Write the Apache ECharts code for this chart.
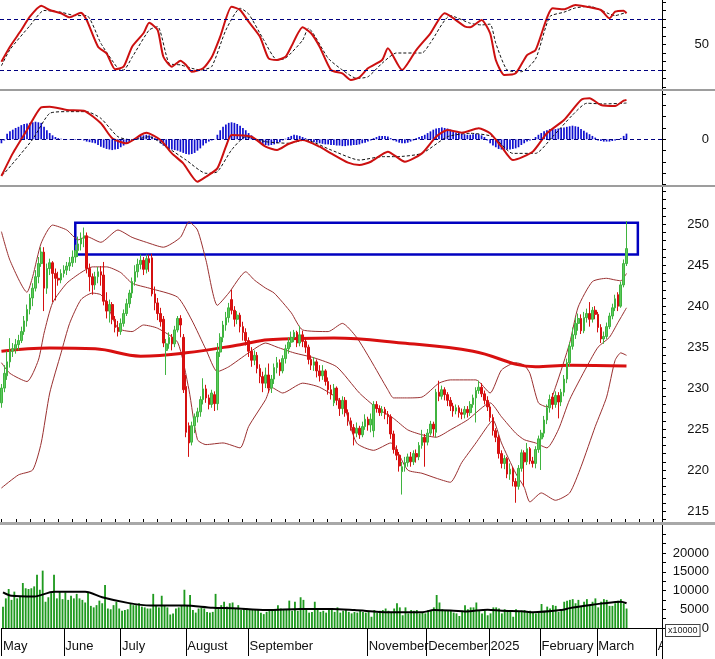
<!DOCTYPE html>
<html><head><meta charset="utf-8">
<script src="https://cdn.jsdelivr.net/npm/echarts@6/dist/echarts.min.js"></script>
<style>html,body{margin:0;padding:0;background:#fff}#c{width:715px;height:659px}</style>
</head><body><div id="c"></div>
<script>
// ---------- calendar (trading sessions per month) ----------
const monthNames = ['May','June','July','August','September','October','November','December','2025','February','March','April'];
const monthDays  = [22,20,23,22,19,23,21,22,18,20,21,2];
const hiddenMonthLabels = ['October']; // not printed on the reference axis

// ---------- price candles [open, close, low, high] ----------
const ohlc = [
[228.2,230,227.6,230.5],[230,231.8,229.5,232.8],[231.5,233.2,231,234.5],[233.2,234.5,232.5,236.1],[234.5,234.8,233.8,235.5],
[234.8,235.3,234.2,236],[235.3,235.8,234.6,236.5],[235.8,236.9,235.5,237.5],[236.9,238.2,236.5,238.8],[238.2,239.6,237.5,240.2],
[239.6,241,239,241.5],[241,242.2,240,242.8],[242.2,243.6,241.8,244.4],[243.6,245.2,242.8,246],[245.2,246.6,244.8,247.2],
[246.6,242.2,239.4,247.2],[242.2,244.6,241.5,245.2],[244.6,245.3,243.8,245.8],[245.3,244,240.5,245.5],[244,243.4,240.7,244.6],
[243.4,243.2,242.5,244.2],[243.2,244,242.8,244.5],[244,244.4,243.5,245],[244.4,244.9,243.8,245.4],[244.9,245.3,244.3,246],
[245.3,246,244.8,246.8],[246,246.8,245.3,247.5],[246.8,247.6,246,248.5],[247.6,248.3,246.8,249],[248.3,248.6,247.2,249.6],
[248.6,244.6,244,249],[244.6,243.6,241.8,245.2],[243.6,242.6,241.4,244],[242.6,243.6,242,244.2],[243.6,244.2,242.8,244.8],
[244.2,243.8,242.5,244.9],[243.8,240.6,240.1,245.4],[240.6,239.4,238.5,241.7],[239.4,240.2,238,240.8],[240.2,238.4,237.8,240.5],
[238.4,237.4,236.8,238.8],[237.4,236.9,236.3,238.2],[236.9,237.9,236.5,238.5],[237.9,239.1,237.5,239.6],[239.1,240.3,238.8,240.9],
[240.3,241.6,239.8,242],[241.6,243,241,243.5],[243,244.2,242.5,245],[244.2,245.1,243.5,245.8],[245.1,245.6,244.5,246.3],
[245.6,244.5,243.8,246],[244.5,245.8,244,246.3],[245.8,245.3,244.2,246.3],[245.9,241.5,241.2,246.4],[241.5,240.4,239.5,242.4],
[240.4,239.1,238.3,241],[239.1,238.1,237.5,239.8],[238.4,235.5,235,238.8],[234.6,235.4,231.6,236],[235.4,236.2,234.8,236.8],
[236.2,235.4,234.6,236.6],[235.4,237.1,235,237.6],[237.1,238.5,236.8,238.8],[238.5,237.7,236.2,238.9],[236.2,229.8,229.4,236.6],
[230.2,224.6,224,231.6],[225.4,223.3,221.6,225.8],[223.4,225.4,223,225.9],[225.4,226.5,224.5,226.9],[226.5,227.1,225.8,227.6],
[227.1,228.6,226.5,229],[228.6,229.9,228,231.2],[229.9,228.8,228.2,230.4],[228.8,228,227.4,229.2],[228,229.4,227.6,229.8],
[229.2,228.1,227.2,229.6],[228.1,234.4,227.3,235.5],[234.4,236.2,233.8,236.7],[236.2,237.7,235.6,238.2],[237.7,238.6,237,239.3],
[238.6,239.8,238,240.4],[240.8,239.5,239,242],[239.5,238.4,237.5,240],[238.4,238.9,237.8,239.4],[238.9,237.5,236.8,239.2],
[237.5,236.8,235.8,238.1],[236.8,235.8,235.2,237.3],[235.8,234.5,233.8,236.2],[234.5,233.4,232.6,235],[233.4,234,232.8,234.6],
[234,232.4,231.8,234.4],[232.4,231.4,230.6,232.9],[231.4,230.6,229.5,232],[230.6,231.6,230,232.5],[231.6,230,229.4,233],
[230,231.1,229.4,231.6],[231.1,232.5,230.5,233],[232.5,233.1,231.8,233.8],[233.1,232.1,231.5,233.5],[232.1,233.6,231.8,234],
[233.6,234.8,233,235.3],[234.8,235.6,234.2,236.2],[235.6,236.2,235,236.9],[236.2,236.8,235.6,237.1],[236.8,235.5,235,237],
[235.5,236.5,235.1,237.6],[236.5,235.7,235,237],[235.7,235,234.3,236.1],[235,233.5,232.9,235.3],[233.5,232.8,232.2,234],
[232.8,233.2,232.1,233.8],[233.2,232.1,231.3,233.5],[232.1,231.5,230.8,232.8],[231.5,232.1,231,232.8],[232.1,230.8,230.3,232.3],
[230.8,229.8,229.2,231.3],[229.8,229.2,228.6,230.4],[228.2,230,227.8,230.5],[230,228.5,227.9,230.2],[228.5,227.5,226.6,228.8],
[227.5,228.5,226.8,229],[228.5,227,226.5,228.9],[227,226,225.4,227.4],[226,225.2,224.8,226.4],[225.2,224.5,223,225.6],
[224.5,225.1,224,225.8],[225.1,224.3,223.8,225.4],[224.3,225.3,224,225.9],[225.3,226.2,224.9,226.8],[226.2,225.5,224.8,226.5],
[225.5,226.2,224.6,226.9],[224.8,228,224,228.4],[228,227.5,227,228.4],[227.5,227,226.6,227.9],[227,227.4,226.6,227.8],
[227.4,226.8,226.2,227.7],[226.8,226.5,225.6,227.2],[226.5,224.4,223.8,226.8],[224.4,222.5,222,224.8],[222.5,221.8,221.2,223],
[221.8,220.5,219.8,222.2],[219.8,220.4,217,221],[220.4,220.9,219.8,221.6],[220.9,221.6,220.4,222],[221.6,221,220.4,222.2],
[221,222,220.6,222.4],[222,221.6,220.9,222.5],[221.6,223,221.2,223.4],[223,224,222.6,224.9],[224,223.4,220.4,224.4],
[223.4,224.5,223,225],[224.5,225.6,224.2,226],[225.6,225,224.1,225.9],[224.6,229.5,224,229.9],[229.5,229,228.4,230.9],
[229,229.8,228.6,230.3],[229.8,229.2,228.5,230.1],[229.2,228.5,227.8,229.5],[228.5,227.8,227.2,228.9],[227.8,227.2,226.5,228.2],
[227.2,227.6,226.8,228],[227.6,227,226.4,227.9],[227,226.8,226.2,227.5],[226.8,227.4,226.3,227.8],[227.4,227,226.4,227.8],
[227,228,226.6,228.4],[228,228.8,227.6,229.2],[228.8,229.7,225.8,230.1],[229.7,230.1,229.3,230.9],[230.1,229.3,228.9,230.6],
[229.3,228.5,228,229.7],[228.5,227.7,227.2,229],[227.7,226.4,225.9,228.1],[226.4,224.8,224.2,226.8],[224.8,224,223.4,225.1],
[224,222,221.4,224.3],[222,220.8,220.2,222.4],[220.8,221.4,220.1,221.8],[221.4,219.5,219,221.6],[219.5,220.1,218.8,220.8],
[220.1,218.6,218,220.4],[218.6,218,216,219],[218,220.2,217.6,220.6],[220.2,222.1,219.8,222.5],[222.1,221,218,222.4],
[221,222.6,220.6,223.3],[222.6,221.1,220.7,222.8],[221.1,220.8,220.3,221.6],[220.8,222.5,220.2,222.9],[222.5,223.8,222.1,224.2],
[223.8,224.5,220,224.9],[224.5,226.1,224,226.6],[226.1,227.6,225.6,228],[227.6,228.6,227,229.2],[228.9,228,227.4,229.4],
[228,229.1,227.6,229.6],[229.1,228.3,226.3,229.5],[228.3,229.5,227.8,229.9],[229.5,231.1,229,231.6],[231.1,233.1,230.6,233.6],
[233.1,235.1,232.6,235.6],[235.1,236.5,234.7,237.4],[236.5,237.9,236,238.6],[237.9,238.5,237,239.1],[238.5,237,236.6,239],
[237,238.6,236.7,239.3],[238.6,239.1,238,239.7],[239.1,238.4,237.5,240.5],[238.4,239.5,238,239.9],[239.5,239,238.4,240],
[239,237.4,236.8,239.3],[237.4,236,235.5,237.8],[236,236.3,235.4,236.9],[236.3,237.5,236,238],[237.5,238.8,237.2,239.2],
[238.8,239.8,238.4,240.3],[239.8,240.9,239.4,241.4],[241.4,240,239.4,241.7],[240,242.6,239.8,243],[242.6,245.2,242.3,245.7],
[245.2,247.03,244.9,250.4]
];
const lastPrice = 247.03;
const boxZone = {fromIdx: 26, toIdx: 224, top: 250.2, bottom: 246.3};

// ---------- Bollinger bands & long MA, [bar index, value] ----------
const bbUpper = [[0,249.1],[3,245.6],[9,241.7],[11,243.6],[14,247.7],[18,249.9],[23,249.3],[27,248.1],[30,248.5],[35,247.8],[41,249.3],[46,248.4],[51,247.8],[57,247.2],[63,248.4],[66,250.3],[69,249.3],[72,245.6],[76,240.1],[80,241.6],[86,244.2],[89,243.2],[93,242.2],[96,241.6],[102,239.2],[106,237.1],[115,236.9],[120,237.9],[125,236.2],[130,233.4],[136,229.8],[138,228.8],[143,228.8],[148,228.9],[154,230.6],[158,231],[167,231],[172,229.4],[176,232.2],[181,233.1],[184,232.8],[186,231.8],[189,228.2],[192,227.7],[195,230.1],[200,235.5],[203,239.9],[208,243],[213,243.4],[216,243.2],[218,243.1],[220,244]];
const bbMid = [[0,233.1],[3,231.8],[9,230.8],[13,233.4],[15,236.7],[18,240.4],[23,242.8],[28,244.1],[32,244.8],[37,244.8],[42,244.1],[46,242.8],[52,242.2],[62,241.1],[67,238.3],[72,234.7],[76,232],[80,232.6],[87,234.3],[93,235.5],[97,235],[103,234.3],[110,233.7],[118,232.6],[126,229.4],[132,227.6],[138,226.3],[143,224.9],[148,224.3],[153,224],[158,224.9],[164,226.1],[172,228.2],[176,226.5],[181,224.5],[184,223.7],[188,223.3],[192,222.7],[196,224.9],[200,228.6],[206,232.6],[210,235],[214,236.2],[217,238],[220,239.8]];
const bbLower = [[0,217.8],[6,219.4],[11,220],[14,223.3],[17,229.4],[21,234.3],[24,237.9],[28,240.8],[32,241.6],[35,241.4],[37,240.4],[41,237.3],[46,236.9],[50,237.7],[55,237.3],[62,235.6],[66,229.8],[69,223.7],[72,223.1],[78,223.3],[84,222.7],[87,225.3],[93,228.6],[95,230.1],[99,229.4],[106,230.6],[112,230.1],[120,228.2],[125,223.3],[131,222.4],[137,223.3],[143,220],[148,219.6],[153,219],[158,218.5],[162,220.9],[167,223.3],[171,225.3],[173,226.1],[176,223.3],[181,219.6],[184,217.9],[186,216.1],[190,217.2],[195,216.3],[200,217.2],[204,220.4],[209,225.3],[213,228.9],[216,233.4],[218,234.3],[220,234]];
const ma200 = [[0,234.5],[17,234.9],[33,234.8],[49,233.9],[65,234.3],[84,235.3],[94,235.9],[117,236.1],[141,235.5],[166,234.5],[188,232.6],[200,232.8],[220,232.7]];

// ---------- Stochastic, [bar index, value] ----------
const stochK = [[0,29.8],[3,47.4],[7,67],[10,82.7],[14,95.6],[17,90.6],[21,86.7],[24,82],[28,87.4],[30,78.8],[34,47.4],[37,39.6],[40,20.8],[43,23.9],[46,47.4],[50,63.2],[52,75.6],[55,67],[57,35.6],[60,23.9],[63,31],[65,25.9],[67,18],[71,22],[74,34.9],[77,59.2],[81,94.5],[84,90.6],[87,76.8],[91,59.2],[94,33.8],[97,31.8],[100,35.6],[102,47.4],[106,70.2],[109,63.2],[112,47.4],[116,20],[120,16.1],[123,8.2],[126,11.4],[129,22],[134,31.8],[136,45.5],[141,20],[146,43.5],[151,63.2],[156,86.7],[163,71.4],[165,70.2],[169,78.8],[172,63.2],[174,31.8],[177,14.1],[181,16.1],[185,37.6],[188,43.5],[194,92.6],[198,91.4],[202,96.5],[206,94.5],[211,90.6],[214,80.8],[216,88.6],[219,89.8],[220,86.7]];
const stochD = [[0,25],[3,44],[10,72],[15,90],[21,88],[26,84],[30,84],[35,51.4],[41,22],[43,20],[46,35],[52,67],[55,71],[59,27.9],[63,26],[67,22],[70,20],[74,24],[79,67],[84,92.6],[87,86],[92,57.3],[97,32],[100,33.8],[106,55],[108,69],[115,33.8],[120,20],[125,10.2],[129,12],[134,28],[139,40],[148,40],[151,52],[158,84],[165,75],[169,73],[172,74],[174,51.4],[178,20],[183,18],[188,33],[193,82.7],[198,88],[202,93],[207,95],[214,86],[216,84],[220,88]];
const stochLevels = [80, 20];

// ---------- MACD, [bar index, value] ----------
const macdLine = [[0,-3.24],[4,-1.24],[9,0.82],[14,2.82],[17,2.88],[23,2.59],[29,2.52],[35,1.41],[39,0.09],[44,-0.35],[49,0.38],[51,0.58],[56,-0.06],[60,-1.24],[64,-2.12],[69,-3.74],[72,-3.3],[76,-2.56],[79,-0.65],[81,0.38],[88,0.23],[93,-0.65],[97,-0.94],[101,-0.41],[106,-0.06],[112,-0.65],[116,-1.24],[122,-2.06],[126,-2.27],[130,-1.98],[136,-1.09],[142,-1.98],[148,-1.24],[153,0.23],[157,0.82],[162,0.58],[168,0.97],[172,0.53],[176,-0.65],[180,-1.83],[187,-1.09],[192,0.53],[198,1.7],[204,3.47],[207,3.62],[211,3.03],[216,2.94],[219,3.41],[220,3.47]];
const macdSignal = [[0,-3.1],[1,-3.0],[11,0],[17,2.29],[23,2.44],[30,2.44],[35,1.85],[41,0.23],[46,-0.06],[52,0.23],[58,-0.65],[65,-1.83],[72,-3.0],[76,-2.86],[81,-0.94],[86,0.23],[93,-0.21],[101,-0.35],[107,-0.06],[116,-0.94],[126,-1.83],[134,-1.53],[139,-1.53],[148,-1.24],[157,0.23],[165,0.53],[173,0.23],[180,-1.24],[188,-1.24],[194,0.23],[201,2.14],[206,3.18],[212,3.12],[219,3.18],[220,3.2]];
const macdHist = [-0.35,-0.1,0.5,0.7,0.85,1.0,1.1,1.25,1.35,1.4,1.45,1.5,1.55,1.5,1.45,1.1,0.8,0.55,0.35,0.2,0.1,0.05,0.02,-0.02,-0.03,-0.05,-0.05,-0.05,-0.05,-0.1,-0.2,-0.25,-0.3,-0.35,-0.5,-0.65,-0.75,-0.85,-0.9,-0.95,-0.9,-0.85,-0.7,-0.55,-0.4,-0.25,-0.1,0.1,0.2,0.3,0.35,0.4,0.35,0.25,0.1,-0.1,-0.35,-0.55,-0.7,-0.8,-0.9,-0.95,-1.0,-1.1,-1.2,-1.3,-1.35,-1.3,-1.2,-1.0,-0.8,-0.55,-0.35,-0.2,-0.1,-0.03,0.4,0.8,1.1,1.3,1.45,1.5,1.45,1.35,1.2,1.0,0.8,0.55,0.35,0.1,-0.15,-0.3,-0.4,-0.5,-0.55,-0.5,-0.45,-0.35,-0.25,-0.1,0.05,0.2,0.3,0.4,0.35,0.3,0.2,0.1,-0.1,-0.2,-0.25,-0.3,-0.35,-0.4,-0.45,-0.45,-0.5,-0.5,-0.55,-0.55,-0.6,-0.6,-0.55,-0.55,-0.5,-0.5,-0.45,-0.35,-0.3,-0.2,-0.1,0.1,0.2,0.3,0.3,0.3,0.25,0.1,-0.1,-0.2,-0.3,-0.35,-0.35,-0.3,-0.2,-0.1,0.1,0.2,0.3,0.4,0.55,0.7,0.85,0.95,1.0,1.05,1.0,0.95,0.85,0.7,0.6,0.55,0.5,0.45,0.4,0.4,0.45,0.5,0.45,0.35,0.2,-0.1,-0.35,-0.55,-0.7,-0.85,-0.9,-0.95,-0.9,-0.9,-0.85,-0.8,-0.7,-0.5,-0.35,-0.2,-0.1,0.0,0.2,0.4,0.55,0.7,0.8,0.9,0.95,0.9,0.95,1.0,1.05,1.1,1.15,1.2,1.15,1.1,0.9,0.75,0.6,0.45,0.3,0.15,-0.1,-0.15,-0.2,-0.2,-0.2,-0.15,-0.1,-0.05,0.1,0.3,0.5];

// ---------- Volume ----------
const volume = [5700,7900,10400,7500,9700,7900,8400,12000,10600,10400,10600,11100,14200,10200,15300,7000,8200,9300,14200,7900,
9700,7700,9500,7500,8600,7900,9100,7900,7500,6800,9700,5900,5500,6100,7300,6600,11500,5200,5000,6100,
7000,5200,4600,4800,5000,6400,6100,6100,6600,5700,5500,5200,5200,9100,5900,5500,8600,5900,5500,3600,
3900,5200,5500,6100,10200,6100,8800,4800,4100,5200,5500,5200,4300,4100,4300,9100,5500,6100,7000,5700,
6600,6800,5200,6100,4800,5200,5200,5000,4800,4800,5000,4100,3700,4300,4600,4800,5000,6100,5200,4800,
4800,7300,4600,7000,4600,8200,7500,5000,4100,4300,7000,5000,4300,4600,4100,5200,5200,4300,5500,4100,
4600,5000,4300,3900,4300,4100,4800,4300,4100,4300,3000,4800,4100,4600,4800,5200,4600,4300,5200,6600,
5500,3400,5500,3900,4800,4600,4800,3900,4300,3900,4800,4600,5500,8800,6800,5000,4800,4800,4600,4100,
3900,3200,4600,6100,5000,5500,5500,6800,4800,3900,4600,3400,3900,5500,5500,5200,3900,5000,4600,4300,
3000,5000,4300,4600,4800,4300,4600,4100,3900,4100,6400,4600,5700,5200,6100,5900,4300,4600,7000,7300,
7500,7700,6600,7500,5700,7000,7700,6100,7000,7900,5500,7000,7700,7500,5900,5900,6600,7300,7700,6600,5200];
const volumeMA = [[0,9500],[3,8600],[11,8400],[18,9700],[29,9700],[35,8200],[44,6700],[52,6000],[64,6000],[74,5400],[81,5300],[93,4800],[105,5100],[116,5100],[124,4800],[136,4200],[148,4200],[152,4800],[159,4600],[163,4400],[171,4900],[176,4600],[183,4500],[187,4200],[197,4800],[200,5300],[206,6000],[212,6600],[218,7000],[220,6600]];

// ---------- tick labels ----------
const stochLabels = [50];
const macdLabels = [0];
const priceLabels = [215,220,225,230,235,240,245,250];
const volumeLabels = [0,5000,10000,15000,20000];

// ---------- build ----------
const cats = [], monthStart = {};
monthDays.forEach((n, m) => { monthStart[cats.length] = monthNames[m]; for (let d = 1; d <= n; d++) cats.push(monthNames[m] + ' ' + d); });
const isMonthStart = i => monthStart[i] !== undefined && hiddenMonthLabels.indexOf(monthStart[i]) < 0;
const range = (a, b, s) => { const r = []; for (let v = a; v <= b + 1e-9; v += s) r.push(+v.toFixed(4)); return r; };

const FONT = 'Liberation Sans';
const grids = [
  {left: 0, right: 53, top: 0, height: 89},
  {left: 0, right: 53, top: 91, height: 94},
  {left: 0, right: 53, top: 187, height: 335},
  {left: 0, right: 53, top: 525, height: 103}
];
function yAx(gi, min, max, labels, ticks, fmt) {
  return {type: 'value', gridIndex: gi, position: 'right', min, max, scale: true,
    axisLine: {show: true, lineStyle: {color: '#000', width: 1}},
    axisTick: {show: true, customValues: ticks, length: 4, inside: false, lineStyle: {color: '#000'}},
    axisLabel: {show: true, customValues: labels, align: 'right', margin: 47, fontSize: 13, fontFamily: FONT, color: '#111', formatter: fmt || (v => String(v))},
    splitLine: {show: false}};
}
const hiddenX = gi => ({type: 'category', gridIndex: gi, data: cats, boundaryGap: true, show: false});

const noSym = ['none', 'none'];
const option = {
  animation: false,
  backgroundColor: '#fff',
  grid: grids,
  xAxis: [hiddenX(0), hiddenX(1), hiddenX(2),
    {type: 'category', gridIndex: 3, data: cats, boundaryGap: true,
      axisLine: {show: true, lineStyle: {color: '#000'}},
      axisTick: {show: true, interval: (i) => isMonthStart(i), length: 28, lineStyle: {color: '#000'}},
      axisLabel: {show: true, interval: (i) => isMonthStart(i) || (monthStart[i] === 'April'), formatter: (v, i) => monthStart[i] || '', align: 'left', margin: 12, fontSize: 13, fontFamily: FONT, color: '#111'}},
    {type: 'category', gridIndex: 3, data: cats, boundaryGap: true,
      axisLine: {show: false}, axisLabel: {show: false},
      axisTick: {show: true, interval: (i) => i % 5 === 0, length: 6, lineStyle: {color: '#000'}}}
  ],
  yAxis: [
    yAx(0, -2.35, 102.35, stochLabels, range(0, 100, 10)),
    yAx(1, -4.03, 4.26, macdLabels, range(-4, 4, 1)),
    yAx(2, 213.65, 254.55, priceLabels, range(214, 254, 1)),
    yAx(3, 0, 27470, volumeLabels, range(0, 25000, 2500))
  ],
  graphic: [
    {type: 'rect', shape: {x: 0, y: 89, width: 715, height: 2}, style: {fill: '#9d9d9d'}, z: 100},
    {type: 'rect', shape: {x: 0, y: 185, width: 715, height: 2}, style: {fill: '#9d9d9d'}, z: 100},
    {type: 'rect', shape: {x: 0, y: 522, width: 715, height: 3}, style: {fill: '#a8a8a8'}, z: 100},
    {type: 'rect', shape: {x: 663, y: 636, width: 52, height: 23}, style: {fill: '#fff'}, z: 100},
    {type: 'line', shape: {x1: 662.5, y1: 628, x2: 662.5, y2: 659}, style: {stroke: '#000', lineWidth: 1}, z: 101},
    {type: 'text', x: 666, y: 625, z: 101, style: {text: 'x10000', fontSize: 9, fontFamily: FONT, fill: '#222', borderColor: '#444', borderWidth: 1, padding: [1, 2], backgroundColor: '#fff'}}
  ],
  series: [
    {type: 'line', xAxisIndex: 0, yAxisIndex: 0, data: stochD, symbol: 'none', smooth: 0.2,
      lineStyle: {color: '#111', width: 1, type: [3, 2]}, z: 3},
    {type: 'line', xAxisIndex: 0, yAxisIndex: 0, data: stochK, symbol: 'none', smooth: 0.2,
      lineStyle: {color: '#cc1010', width: 2}, z: 4,
      markLine: {silent: true, symbol: noSym, label: {show: false},
        lineStyle: {color: '#000080', type: [4, 3], width: 1}, data: stochLevels.map(v => ({yAxis: v}))}},
    {type: 'bar', xAxisIndex: 1, yAxisIndex: 1, data: macdHist, barWidth: '60%',
      itemStyle: {color: '#1010d0'}, z: 2,
      markLine: {silent: true, symbol: noSym, label: {show: false},
        lineStyle: {color: '#000080', type: [4, 3], width: 1}, data: [{yAxis: 0}]}},
    {type: 'line', xAxisIndex: 1, yAxisIndex: 1, data: macdSignal, symbol: 'none', smooth: 0.2,
      lineStyle: {color: '#111', width: 1, type: [3, 2]}, z: 3},
    {type: 'line', xAxisIndex: 1, yAxisIndex: 1, data: macdLine, symbol: 'none', smooth: 0.2,
      lineStyle: {color: '#cc1010', width: 2}, z: 4},
    {type: 'line', xAxisIndex: 2, yAxisIndex: 2, data: bbUpper, symbol: 'none', smooth: 0.2, lineStyle: {color: '#9a3030', width: 1}, z: 2},
    {type: 'line', xAxisIndex: 2, yAxisIndex: 2, data: bbMid, symbol: 'none', smooth: 0.2, lineStyle: {color: '#9a3030', width: 1}, z: 2},
    {type: 'line', xAxisIndex: 2, yAxisIndex: 2, data: bbLower, symbol: 'none', smooth: 0.2, lineStyle: {color: '#9a3030', width: 1}, z: 2},
    {type: 'line', xAxisIndex: 2, yAxisIndex: 2, data: ma200, symbol: 'none', smooth: 0.4, lineStyle: {color: '#d81010', width: 3}, z: 3},
    {type: 'candlestick', xAxisIndex: 2, yAxisIndex: 2, data: ohlc, barWidth: '75%', z: 4,
      itemStyle: {color: '#5ccc5c', color0: '#e01010', borderColor: '#3fb33f', borderColor0: '#d41010', borderWidth: 1},
      markArea: {silent: true, itemStyle: {color: 'rgba(0,0,0,0)', borderColor: '#0000c0', borderWidth: 2.5},
        data: [[{xAxis: boxZone.fromIdx, yAxis: boxZone.top}, {xAxis: boxZone.toIdx, yAxis: boxZone.bottom}]]},
      markLine: {silent: true, symbol: noSym, lineStyle: {opacity: 0},
        label: {show: true, position: 'end', distance: 5, formatter: lastPrice.toFixed(4), backgroundColor: '#000', color: '#2fd02f', fontSize: 11, fontFamily: FONT, padding: [2, 1, 1, 1]},
        data: [{yAxis: lastPrice}]}},
    {type: 'bar', xAxisIndex: 3, yAxisIndex: 3, data: volume, barWidth: '65%', itemStyle: {color: '#1f9a1f'}, z: 2},
    {type: 'line', xAxisIndex: 3, yAxisIndex: 3, data: volumeMA, symbol: 'none', smooth: 0.3, lineStyle: {color: '#000', width: 2}, z: 3}
  ]
};
const chart = echarts.init(document.getElementById('c'), null, {renderer: 'canvas'});
chart.setOption(option);
</script></body></html>
